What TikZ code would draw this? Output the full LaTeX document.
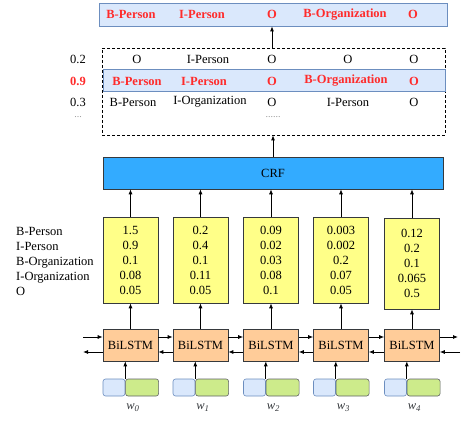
\documentclass[tikz,border=0pt]{standalone}
\usepackage{fontspec}
\setmainfont{Liberation Serif}
\usetikzlibrary{arrows.meta}
\definecolor{tagblue}{HTML}{DAE8FC}
\definecolor{tagline}{HTML}{6C8EBF}
\definecolor{crfblue}{HTML}{33ABFF}
\definecolor{boxline}{HTML}{36393D}
\definecolor{emityellow}{HTML}{FFFF88}
\definecolor{lstmorange}{HTML}{FFCC99}
\definecolor{wordgreen}{HTML}{CDEB8B}
\definecolor{tagred}{HTML}{FF2B2B}
\newcommand{\tagfont}{\fontsize{12.5}{15}\selectfont}

\begin{document}
\begin{tikzpicture}[x=1pt,y=-1pt,
	every node/.style={font=\tagfont,inner sep=0pt},
	band/.style={draw=tagline,fill=tagblue,line width=0.8pt},
	redtag/.style={text=tagred,font=\tagfont\bfseries},
	emit/.style={draw=boxline,fill=emityellow,minimum width=55pt,align=center,line width=0.6pt},
	lstm/.style={draw=boxline,fill=lstmorange,minimum width=55pt,minimum height=32pt,line width=0.6pt},
	charemb/.style={draw=tagline,fill=tagblue,rounded corners=2.5pt,minimum width=22pt,minimum height=17pt,line width=0.6pt},
	wordemb/.style={draw=boxline!80,fill=wordgreen,rounded corners=2.5pt,minimum width=33pt,minimum height=17pt,line width=0.6pt},
	up/.style={-{Latex[length=5pt,width=4pt]},line width=0.8pt},
	dots/.style={text=gray!80,font=\fontsize{10}{12}\selectfont}
	]
	\useasboundingbox (0,0) rectangle (474,422);
	
	% output sequence
	\node[band,minimum width=348pt,minimum height=23pt] (result) at (273,14.5) {};
	\foreach \t/\x [count=\i] in {B-Person/131,I-Person/202,O/272,B-Organization/345,O/413}
		\node[redtag] (res\i) at (\x,14.5) {\t};
	
	% candidate paths with scores
	\node[draw,dash pattern=on 3pt off 2pt,line width=0.8pt,minimum width=343pt,minimum height=87pt] (paths) at (273.5,91.5) {};
	\node[band,minimum width=342pt,minimum height=22pt] (best) at (274,80) {};
	\foreach \t/\x [count=\i] in {O/137,I-Person/208,O/272,O/348,O/414}
		\node (pa\i) at (\x,59) {\t};
	\foreach \t/\x [count=\i] in {B-Person/137,I-Person/204,O/272,B-Organization/346,O/414}
		\node[redtag] (pb\i) at (\x,81) {\t};
	\foreach \t/\x [count=\i] in {B-Person/133,I-Organization/210,O/272,I-Person/348,O/414}
		\node (pc\i) at (\x,102) {\t};
	\node[dots] (pd) at (273,117) {......};
	\node (sa) at (78,59) {0.2};
	\node[redtag] (sb) at (78,81) {0.9};
	\node (sc) at (78,102) {0.3};
	\node[dots] (sd) at (78,117) {...};
	\draw[up] (paths.north -| res3) -- (result.south -| res3);
	
	% crf layer
	\node[draw=boxline,fill=crfblue,minimum width=340pt,minimum height=32pt,line width=0.6pt] (crf) at (273,173) {CRF};
	\draw[up] (crf.north -| pd) -- (paths.south -| pd);
	
	% emission scores
	\node[anchor=west,align=left] (tags) at (16,261) {B-Person\\I-Person\\B-Organization\\I-Organization\\O};
	\foreach \x/\y/\h/\s [count=\i from 0] in {
		130.5/260/86/{1.5\\0.9\\0.1\\0.08\\0.05},
		200.5/260/86/{0.2\\0.4\\0.1\\0.11\\0.05},
		271/260/86/{0.09\\0.02\\0.03\\0.08\\0.1},
		341/260/86/{0.003\\0.002\\0.2\\0.07\\0.05},
		412/263.5/91/{0.12\\0.2\\0.1\\0.065\\0.5}}{
		\node[emit,minimum height=\h pt] (emit\i) at (\x,\y) {\s};
		\draw[up] (emit\i.north) -- (crf.south -| emit\i.north);
	}
	
	% bilstm and embeddings
	\foreach \x [count=\i from 0] in {130.5,200.5,271,341,412}{
		\node[lstm] (lstm\i) at (\x,345) {BiLSTM};
		\draw[up] (lstm\i.north) -- (emit\i.south);
		\node[charemb] (char\i) at (\x-16.5,387.5) {};
		\node[wordemb,anchor=west] (word\i) at (char\i.east) {};
		\draw[up] (word\i.north west) -- (word\i.north west |- lstm\i.south);
		\node[text=boxline,font=\tagfont\itshape] (w\i) at (\x+2.5,408) {w\textsubscript{\i}};
	}
	\foreach \i/\j in {0/1,1/2,2/3,3/4}{
		\draw[up] ([yshift=8pt]lstm\i.east) -- ([yshift=8pt]lstm\j.west);
		\draw[up] ([yshift=-7pt]lstm\j.west) -- ([yshift=-7pt]lstm\i.east);
	}
	\coordinate (lin) at (83,337);
	\coordinate (lout) at (83,352);
	\coordinate (rout) at (458,337);
	\coordinate (rin) at (460,352);
	\draw[up] (lin) -- (lin -| lstm0.west);
	\draw[up] (lstm0.west |- lout) -- (lout);
	\draw[up] (lstm4.east |- rout) -- (rout);
	\draw[up] (rin) -- (rin -| lstm4.east);
\end{tikzpicture}
\end{document}
